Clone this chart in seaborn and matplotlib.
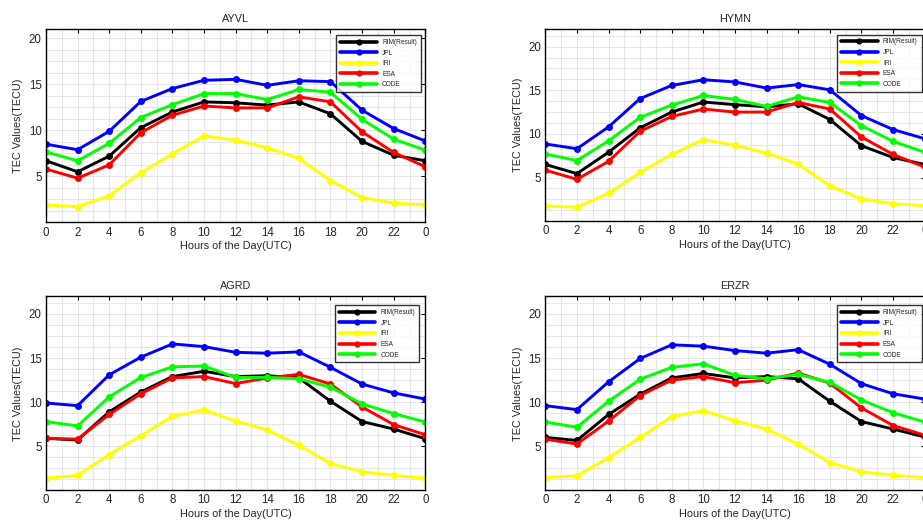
import numpy as np
import pandas as pd
import matplotlib
matplotlib.use("Agg")
import matplotlib.pyplot as plt
from matplotlib.lines import Line2D
from matplotlib.ticker import MultipleLocator
import seaborn as sns

# --- data ---
hours = [0, 2, 4, 6, 8, 10, 12, 14, 16, 18, 20, 22, 24]
hour_labels = ["0", "2", "4", "6", "8", "10", "12", "14", "16", "18", "20", "22", "0"]
series = ["RIM(Result)", "JPL", "IRI", "ESA", "CODE"]
colors = ["#000000", "#0000ff", "#ffff00", "#ff0000", "#00ff00"]
stations = ["AYVL", "HYMN", "AGRD", "ERZR"]

ayvl_rim = [6.7, 5.5, 7.2, 10.3, 12.0, 13.1, 13.0, 12.75, 13.1, 11.8, 8.8, 7.3, 6.7]
ayvl_jpl = [8.5, 7.9, 9.9, 13.15, 14.55, 15.45, 15.55, 14.9, 15.4, 15.3, 12.2, 10.2, 8.85]
ayvl_iri = [1.9, 1.7, 2.9, 5.4, 7.45, 9.4, 8.95, 8.1, 6.95, 4.55, 2.7, 2.1, 1.9]
ayvl_esa = [5.8, 4.8, 6.25, 9.75, 11.65, 12.65, 12.45, 12.45, 13.65, 13.1, 9.85, 7.6, 6.05]
ayvl_code = [7.65, 6.7, 8.6, 11.4, 12.8, 14.0, 14.0, 13.35, 14.45, 14.15, 11.2, 9.05, 7.85]

hymn_rim = [6.5, 5.45, 7.9, 10.7, 12.5, 13.65, 13.35, 13.1, 13.45, 11.65, 8.65, 7.3, 6.5]
hymn_jpl = [8.85, 8.3, 10.8, 14.05, 15.55, 16.2, 15.95, 15.25, 15.65, 15.05, 12.1, 10.5, 9.45]
hymn_iri = [1.75, 1.6, 3.2, 5.6, 7.65, 9.35, 8.7, 7.8, 6.55, 4.05, 2.55, 2.0, 1.8]
hymn_esa = [5.85, 4.8, 6.85, 10.3, 12.0, 12.85, 12.5, 12.5, 13.6, 12.85, 9.65, 7.65, 6.2]
hymn_code = [7.7, 6.95, 9.2, 11.9, 13.3, 14.4, 13.95, 13.15, 14.25, 13.6, 10.95, 9.15, 7.9]

agrd_rim = [5.9, 5.7, 8.9, 11.15, 12.9, 13.5, 12.9, 13.0, 12.75, 10.1, 7.8, 6.95, 5.85]
agrd_jpl = [9.9, 9.6, 13.1, 15.1, 16.6, 16.3, 15.65, 15.55, 15.7, 13.95, 12.05, 11.05, 10.35]
agrd_iri = [1.35, 1.7, 4.05, 6.2, 8.4, 9.1, 7.85, 6.85, 5.1, 3.05, 2.1, 1.7, 1.35]
agrd_esa = [5.9, 5.8, 8.6, 10.95, 12.75, 12.9, 12.1, 12.75, 13.15, 12.05, 9.45, 7.45, 6.3]
agrd_code = [7.8, 7.3, 10.6, 12.8, 14.0, 14.1, 12.8, 12.8, 12.65, 11.7, 9.8, 8.7, 7.75]

erzr_rim = [6.0, 5.65, 8.6, 10.9, 12.75, 13.25, 12.75, 12.9, 12.65, 10.1, 7.8, 6.95, 6.05]
erzr_jpl = [9.6, 9.15, 12.3, 14.95, 16.5, 16.35, 15.85, 15.55, 15.95, 14.3, 12.1, 10.95, 10.35]
erzr_iri = [1.45, 1.65, 3.7, 6.0, 8.35, 9.05, 7.9, 6.95, 5.25, 3.15, 2.1, 1.7, 1.45]
erzr_esa = [5.8, 5.25, 7.85, 10.75, 12.5, 12.9, 12.2, 12.5, 13.3, 12.15, 9.35, 7.35, 6.25]
erzr_code = [7.75, 7.15, 10.1, 12.6, 13.95, 14.35, 13.05, 12.65, 13.15, 12.25, 10.25, 8.8, 7.75]

station_data = {
    "AYVL": [ayvl_rim, ayvl_jpl, ayvl_iri, ayvl_esa, ayvl_code],
    "HYMN": [hymn_rim, hymn_jpl, hymn_iri, hymn_esa, hymn_code],
    "AGRD": [agrd_rim, agrd_jpl, agrd_iri, agrd_esa, agrd_code],
    "ERZR": [erzr_rim, erzr_jpl, erzr_iri, erzr_esa, erzr_code],
}

# long-form table for seaborn
rows = []
for st in stations:
    for name, vals in zip(series, station_data[st]):
        for h, v in zip(hours, vals):
            rows.append((st, name, h, v))
df = pd.DataFrame(rows, columns=["station", "series", "hour", "tec"])

sns.set_theme(style="white")
plt.rcParams["font.family"] = ["Liberation Sans", "DejaVu Sans"]
TXT = "#262626"

fig = plt.figure(figsize=(9.23, 5.22), dpi=100)

# axes layout: [left, bottom, width, height], y top, legend anchor
layout = {
    "AYVL": ([0.0498, 0.574, 0.411, 0.370], 21, (0.988, 0.970)),
    "HYMN": ([0.5908, 0.5762, 0.411, 0.368], 22, (0.992, 0.972)),
    "AGRD": ([0.0498, 0.0607, 0.411, 0.3716], 22, (0.984, 0.954)),
    "ERZR": ([0.5908, 0.0607, 0.411, 0.3716], 22, (0.992, 0.954)),
}

palette = dict(zip(series, colors))

for st in stations:
    pos, ytop, anchor = layout[st]
    ax = fig.add_axes(pos)
    sub = df[df["station"] == st]
    sns.lineplot(data=sub, x="hour", y="tec", hue="series", hue_order=series,
                 palette=palette, marker="o", markersize=5, markeredgewidth=0,
                 linewidth=2.1, legend=False, ax=ax)

    ax.set_xlim(0, 24)
    ax.set_ylim(0, ytop)
    ax.set_xticks(hours)
    ax.set_xticklabels(hour_labels)
    ax.set_yticks([5, 10, 15, 20])
    ax.xaxis.set_minor_locator(MultipleLocator(1))
    ax.yaxis.set_minor_locator(MultipleLocator(1.25))
    ax.grid(True, which="both", color="#e6e6e6", linewidth=0.8)
    ax.set_axisbelow(True)
    ax.tick_params(which="major", direction="in", length=3, width=0.8,
                   top=True, right=True, labelsize=8.3, labelcolor=TXT,
                   colors="black", pad=3)
    ax.tick_params(which="minor", length=0)
    for sp in ax.spines.values():
        sp.set_color("black")
        sp.set_linewidth(1.0)

    ax.set_title(st, fontsize=7.8, color=TXT, pad=5)
    ax.set_xlabel("Hours of the Day(UTC)", fontsize=7.8, color=TXT, labelpad=2)
    ax.set_ylabel("TEC Values(TECU)", fontsize=7.8, color=TXT, labelpad=4)

    handles = [Line2D([], [], color=c, linewidth=2.6, marker="o", markersize=4.5,
                      markeredgewidth=0) for c in colors]
    leg = ax.legend(handles, series, loc="upper right", bbox_to_anchor=anchor,
                    borderaxespad=0, fontsize=4.7, frameon=True, fancybox=False,
                    handlelength=5.6, handletextpad=0.8, labelspacing=0.55,
                    borderpad=0.6)
    leg.get_frame().set_edgecolor("black")
    leg.get_frame().set_linewidth(1.0)
    for t in leg.get_texts():
        t.set_color(TXT)

fig.savefig("out.png", dpi=100)
